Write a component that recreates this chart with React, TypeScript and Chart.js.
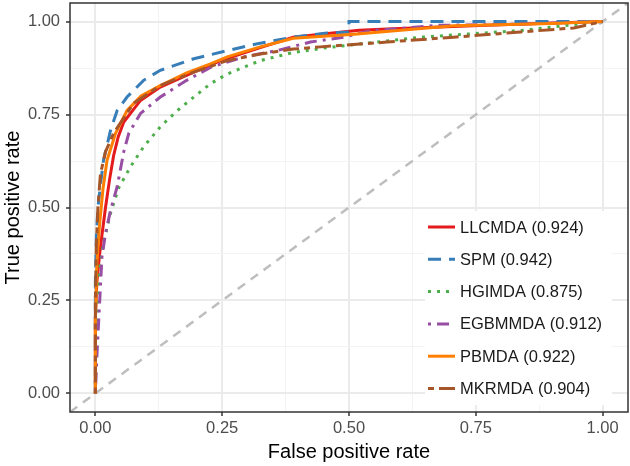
import React, { useEffect, useRef } from 'react';
import { Chart, registerables } from 'chart.js';

Chart.register(...registerables);

const FONT = "'Liberation Sans', Arial, Helvetica, sans-serif";

const seriesNames = ['LLCMDA (0.924)', 'SPM (0.942)', 'HGIMDA (0.875)', 'EGBMMDA (0.912)', 'PBMDA (0.922)', 'MKRMDA (0.904)'];
const seriesColors = ['#E41A1C', '#377EB8', '#4DAF4A', '#984EA3', '#FF7F00', '#A65628'];
const seriesDashes: number[][] = [[], [13, 8], [3, 6], [3, 6, 12, 6], [], [6, 5, 16, 5]];

const llcmdaFpr = [0, 0, 0.003, 0.008, 0.013, 0.02, 0.028, 0.036, 0.045, 0.056, 0.089, 0.128, 0.194, 0.247, 0.325, 0.39, 0.444, 0.52, 0.575, 0.77, 1];
const llcmdaTpr = [0, 0.2, 0.3, 0.37, 0.426, 0.5, 0.575, 0.64, 0.69, 0.73, 0.788, 0.824, 0.864, 0.895, 0.93, 0.958, 0.966, 0.977, 0.98, 0.99, 1];

const spmFpr = [0, 0, 0.002, 0.005, 0.01, 0.016, 0.03, 0.043, 0.0625, 0.095, 0.128, 0.194, 0.26, 0.325, 0.39, 0.457, 0.5, 0.5, 1];
const spmTpr = [0, 0.3, 0.42, 0.5, 0.56, 0.627, 0.708, 0.761, 0.797, 0.842, 0.869, 0.9, 0.922, 0.942, 0.958, 0.969, 0.972, 1, 1];

const hgimdaFpr = [0, 0, 0.004, 0.008, 0.016, 0.03, 0.046, 0.069, 0.095, 0.128, 0.161, 0.194, 0.227, 0.26, 0.292, 0.325, 0.39, 0.457, 0.64, 0.838, 1];
const hgimdaTpr = [0, 0.1, 0.25, 0.33, 0.405, 0.485, 0.553, 0.609, 0.663, 0.717, 0.76, 0.797, 0.833, 0.859, 0.877, 0.895, 0.917, 0.93, 0.958, 0.976, 1];

const egbmmdaFpr = [0, 0.003, 0.007, 0.01, 0.013, 0.02, 0.03, 0.043, 0.056, 0.066, 0.089, 0.128, 0.18, 0.227, 0.292, 0.358, 0.424, 0.49, 0.54, 0.674, 0.8, 1];
const egbmmdaTpr = [0, 0.1, 0.207, 0.288, 0.368, 0.43, 0.493, 0.556, 0.65, 0.7, 0.753, 0.797, 0.842, 0.877, 0.905, 0.922, 0.945, 0.958, 0.975, 0.99, 0.992, 1];

const pbmdaFpr = [0, 0, 0.003, 0.008, 0.015, 0.023, 0.04, 0.0625, 0.09, 0.128, 0.18, 0.227, 0.26, 0.325, 0.39, 0.51, 0.706, 0.9, 1];
const pbmdaTpr = [0, 0.2, 0.35, 0.45, 0.55, 0.627, 0.7, 0.761, 0.8, 0.828, 0.862, 0.886, 0.905, 0.932, 0.955, 0.966, 0.989, 0.995, 1];

const mkrmdaFpr = [0, 0, 0.002, 0.005, 0.01, 0.02, 0.036, 0.075, 0.128, 0.194, 0.26, 0.325, 0.39, 0.444, 0.575, 0.706, 0.838, 0.943, 1];
const mkrmdaTpr = [0, 0.25, 0.4, 0.5, 0.59, 0.65, 0.7, 0.78, 0.828, 0.864, 0.895, 0.913, 0.926, 0.932, 0.945, 0.958, 0.972, 0.983, 1];

const seriesFpr = [llcmdaFpr, spmFpr, hgimdaFpr, egbmmdaFpr, pbmdaFpr, mkrmdaFpr];
const seriesTpr = [llcmdaTpr, spmTpr, hgimdaTpr, egbmmdaTpr, pbmdaTpr, mkrmdaTpr];

const diagonalX = [-0.05, 1.05];
const diagonalY = [-0.05, 1.05];

const majorTicks = [0, 0.25, 0.5, 0.75, 1];
const tickLabels = ['0.00', '0.25', '0.50', '0.75', '1.00'];
const gridTicks = [0, 0.125, 0.25, 0.375, 0.5, 0.625, 0.75, 0.875, 1];

const isMajor = (v: number | undefined) => v !== undefined && majorTicks.some((t) => Math.abs(t - v) < 1e-9);
const labelFor = (v: number) => {
  const i = majorTicks.findIndex((t) => Math.abs(t - v) < 1e-9);
  return i >= 0 ? tickLabels[i] : '';
};

const panelPlugin = {
  id: 'panelPlugin',
  afterDatasetsDraw(chart: any) {
    const { ctx, chartArea: a } = chart;
    ctx.save();
    // legend box
    const boxW = 187;
    const boxH = 194;
    const right = a.right - 16;
    const bottom = a.bottom - 7;
    const left = right - boxW;
    const top = bottom - boxH;
    ctx.fillStyle = '#FFFFFF';
    ctx.fillRect(left, top, boxW, boxH);
    const rowH = 32.3;
    ctx.font = `16.5px ${FONT}`;
    ctx.textBaseline = 'middle';
    ctx.textAlign = 'left';
    for (let i = 0; i < seriesNames.length; i++) {
      const cy = top + 16 + i * rowH;
      ctx.beginPath();
      ctx.setLineDash(seriesDashes[i]);
      ctx.lineCap = 'butt';
      ctx.strokeStyle = seriesColors[i];
      ctx.lineWidth = 3;
      ctx.moveTo(left + 3, cy);
      ctx.lineTo(left + 30, cy);
      ctx.stroke();
      ctx.setLineDash([]);
      ctx.fillStyle = '#1A1A1A';
      ctx.fillText(seriesNames[i], left + 35, cy + 1);
    }
    // panel border
    ctx.strokeStyle = '#333333';
    ctx.lineWidth = 1.5;
    ctx.strokeRect(a.left, a.top, a.right - a.left, a.bottom - a.top);
    ctx.restore();
  },
};

const makeScale = (axis: 'x' | 'y', title: string) => ({
  type: 'linear' as const,
  min: -0.05,
  max: 1.05,
  afterBuildTicks: (scale: any) => {
    scale.ticks = gridTicks.map((v) => ({ value: v }));
  },
  afterFit: (scale: any) => {
    if (axis === 'y') scale.width = 70;
    else scale.height = 54;
    scale.paddingTop = 0;
    scale.paddingBottom = 0;
    scale.paddingLeft = 0;
    scale.paddingRight = 0;
  },
  border: { display: false },
  grid: {
    color: (c: any) => (isMajor(c.tick?.value) ? '#EBEBEB' : '#F3F3F3'),
    lineWidth: (c: any) => (isMajor(c.tick?.value) ? 2 : 1),
    tickColor: (c: any) => (isMajor(c.tick?.value) ? '#333333' : 'rgba(0,0,0,0)'),
    tickWidth: 1.5,
    tickLength: 4,
    drawTicks: true,
  },
  ticks: {
    autoSkip: false,
    maxRotation: 0,
    padding: axis === 'y' ? 6 : 3,
    color: '#4D4D4D',
    font: { size: 16.5, family: FONT },
    callback: (v: any) => labelFor(Number(v)),
  },
  title: {
    display: true,
    text: title,
    color: '#000000',
    font: { size: 20, family: FONT },
    padding: axis === 'y' ? { top: 1, bottom: 0 } : { top: 0, bottom: 2 },
  },
});

export default function App() {
  const ref = useRef<HTMLCanvasElement | null>(null);
  useEffect(() => {
    if (!ref.current) return;
    const datasets: any[] = [
      {
        label: 'diagonal',
        data: diagonalX.map((x, i) => ({ x, y: diagonalY[i] })),
        borderColor: '#BEBEBE',
        borderWidth: 2.5,
        borderDash: [9, 7],
        pointRadius: 0,
        tension: 0,
        order: 100,
      },
      ...seriesNames.map((name, s) => ({
        label: name,
        data: seriesFpr[s].map((x, i) => ({ x, y: seriesTpr[s][i] })),
        borderColor: seriesColors[s],
        borderWidth: 3,
        borderDash: seriesDashes[s],
        borderCapStyle: 'butt',
        pointRadius: 0,
        tension: 0,
        order: 10 - s,
      })),
    ];
    const chart = new Chart(ref.current, {
      type: 'line',
      data: { datasets },
      options: {
        animation: false,
        responsive: false,
        devicePixelRatio: 1,
        parsing: false as any,
        layout: { padding: { top: 3, right: 2, left: 0, bottom: 0 } },
        plugins: { legend: { display: false }, tooltip: { enabled: false } },
        scales: {
          x: makeScale('x', 'False positive rate') as any,
          y: makeScale('y', 'True positive rate') as any,
        },
      },
      plugins: [panelPlugin],
    });
    return () => chart.destroy();
  }, []);
  return (
    <div style={{ position: 'fixed', left: 0, top: 0, width: 630, height: 466, background: '#fff' }}>
      <canvas ref={ref} width={630} height={466} style={{ display: 'block' }} />
    </div>
  );
}
